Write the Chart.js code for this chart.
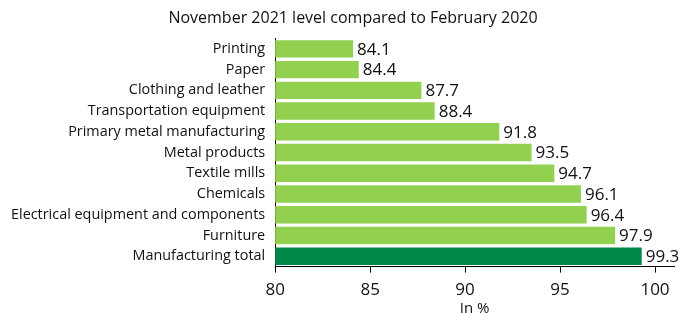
<!DOCTYPE html>
<html>
<head>
<meta charset="utf-8">
<script src="https://cdn.jsdelivr.net/npm/chart.js@4/dist/chart.umd.min.js"></script>
<style>
  html, body { margin: 0; padding: 0; background: #fff; overflow: hidden; }
  #wrap { width: 681px; height: 326px; }
</style>
</head>
<body>
<div id="wrap"><canvas id="myChart"></canvas></div>
<script>
var categories = ['Printing', 'Paper', 'Clothing and leather', 'Transportation equipment',
  'Primary metal manufacturing', 'Metal products', 'Textile mills', 'Chemicals',
  'Electrical equipment and components', 'Furniture', 'Manufacturing total'];
var values = [84.1, 84.4, 87.7, 88.4, 91.8, 93.5, 94.7, 96.1, 96.4, 97.9, 99.3];
var xTicks = [80, 85, 90, 95, 100];
var titleText = 'November 2021 level compared to February 2020';

var colors = categories.map(function(c) {
  return c === 'Manufacturing total' ? '#00884a' : '#92d050';
});

// value labels to the right of each bar
var valueLabels = {
  id: 'valueLabels',
  afterDatasetsDraw: function(chart) {
    var ctx = chart.ctx;
    var meta = chart.getDatasetMeta(0);
    ctx.save();
    ctx.font = '17px "Open Sans"';
    ctx.fillStyle = '#111';
    ctx.textAlign = 'left';
    ctx.textBaseline = 'middle';
    meta.data.forEach(function(bar, i) {
      ctx.fillText(values[i].toFixed(1), bar.x + 4, bar.y + 1);
    });
    ctx.restore();
  }
};

// title, a bit right of the canvas centre like the original
var topTitle = {
  id: 'topTitle',
  afterDraw: function(chart) {
    var ctx = chart.ctx;
    ctx.save();
    ctx.font = '16px "Open Sans"';
    ctx.fillStyle = '#111';
    ctx.textAlign = 'center';
    ctx.textBaseline = 'middle';
    ctx.fillText(titleText, 353, 18);
    ctx.restore();
  }
};

new Chart(document.getElementById('myChart'), {
  type: 'bar',
  data: {
    labels: categories,
    datasets: [{
      data: values,
      backgroundColor: colors,
      borderWidth: 0,
      barPercentage: 0.84,
      categoryPercentage: 1
    }]
  },
  options: {
    indexAxis: 'y',
    responsive: true,
    maintainAspectRatio: false,
    animation: false,
    layout: { padding: { left: 1, right: 7, top: 38.5, bottom: 0 } },
    plugins: {
      legend: { display: false },
      tooltip: { enabled: false },
      title: { display: false }
    },
    scales: {
      x: {
        min: 80,
        max: 101,
        afterBuildTicks: function(scale) {
          scale.ticks = xTicks.map(function(v) { return { value: v }; });
        },
        border: { display: true, color: '#000', width: 1 },
        grid: { drawOnChartArea: false, drawTicks: true, tickLength: 6, color: '#000' },
        ticks: { color: '#111', font: { family: 'Open Sans', size: 17 }, padding: 7 },
        title: {
          display: true, text: 'In %', color: '#111',
          font: { family: 'Open Sans', size: 15 }, padding: { top: -7, bottom: 8 }
        }
      },
      y: {
        border: { display: true, color: '#000', width: 1 },
        grid: { display: false, drawTicks: false },
        ticks: { color: '#111', font: { family: 'Open Sans', size: 14.4 }, padding: 10 }
      }
    }
  },
  plugins: [valueLabels, topTitle]
});
</script>
</body>
</html>
